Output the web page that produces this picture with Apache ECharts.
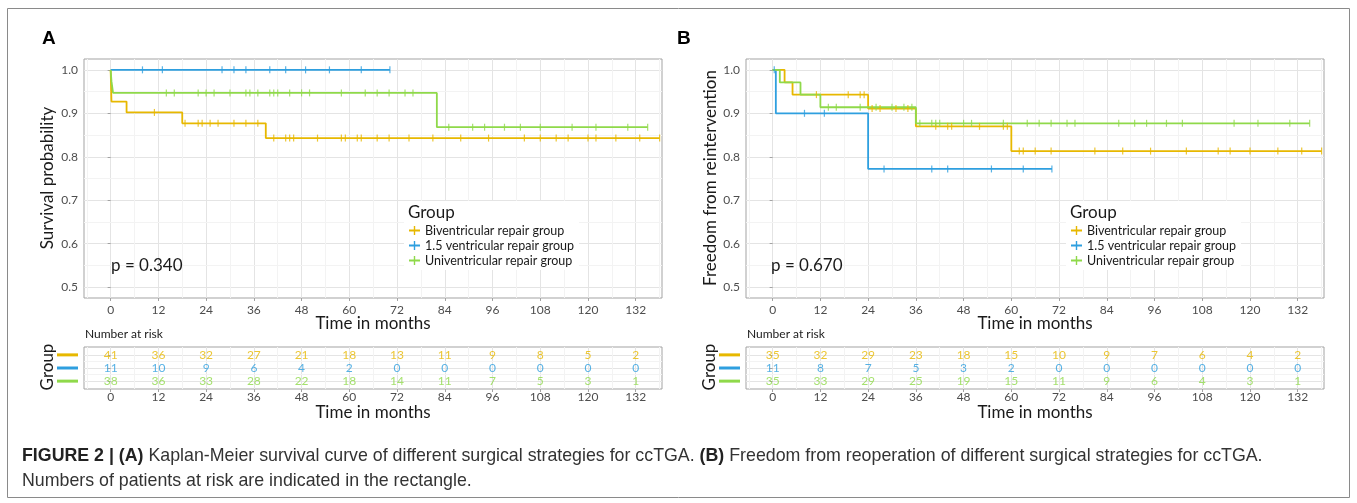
<!DOCTYPE html>
<html><head><meta charset="utf-8">
<script src="https://cdn.jsdelivr.net/npm/echarts@6/dist/echarts.min.js"></script>
<style>html,body{margin:0;padding:0;background:#fff}#c{width:1357px;height:503px}</style>
</head><body><div id="c"></div>
<script>
// ---------------- DATA ----------------
const groupNames = ['Biventricular repair group', '1.5 ventricular repair group', 'Univentricular repair group'];
const xTicks = [0, 12, 24, 36, 48, 60, 72, 84, 96, 108, 120, 132];
const yTicks = [0.5, 0.6, 0.7, 0.8, 0.9, 1.0];

// Panel A: survival (step curve: event times and survival after each step)
const aBiTimes = [0, 0.2, 4, 18, 39, 138];
const aBiSurv = [1, 0.927, 0.902, 0.877, 0.843, 0.843];
const aBiCensor = [11, 18.7, 22, 23, 25, 27, 31, 34, 37, 41, 44, 45, 46, 52, 58, 59, 62, 63, 67, 70, 75, 81, 88, 95, 104, 108, 112, 115, 120, 122, 127, 133, 138];
const aOne5Times = [0, 70.2];
const aOne5Surv = [1, 1];
const aOne5Censor = [8, 13, 28, 31, 34, 40, 44, 49, 55, 63, 70.2];
const aUniTimes = [0, 0.2, 0.6, 82, 135];
const aUniSurv = [1, 0.974, 0.947, 0.868, 0.868];
const aUniCensor = [14, 16, 22, 24, 26, 30, 34, 35, 37, 40, 41, 42, 45, 48, 50, 58, 64, 67, 70, 74, 76, 85, 91, 94, 99, 103, 108, 116, 122, 130, 135];

// Panel B: freedom from reintervention
const bBiTimes = [0, 3, 5, 24, 36, 60, 138];
const bBiSurv = [1, 0.971, 0.943, 0.911, 0.870, 0.813, 0.813];
const bBiCensor = [11, 19, 22, 23, 25, 27, 31, 34, 41, 44, 45, 52, 58, 59, 62, 63, 66, 70, 81, 88, 95, 104, 112, 115, 120, 127, 133, 138];
const bOne5Times = [0, 0.8, 24, 70.2];
const bOne5Surv = [1, 0.9, 0.772, 0.772];
const bOne5Censor = [0.4, 8, 13, 28, 40, 44, 55, 63, 70.2];
const bUniTimes = [0, 1.8, 7, 12, 36, 135];
const bUniSurv = [1, 0.971, 0.943, 0.914, 0.877, 0.877];
const bUniCensor = [14, 16, 22, 26, 30, 33, 35, 37, 40, 41, 42, 48, 50, 58, 64, 67, 70, 74, 76, 87, 91, 94, 99, 103, 116, 122, 130, 135];

// Numbers at risk
const riskTimes = [0, 12, 24, 36, 48, 60, 72, 84, 96, 108, 120, 132];
const aRiskBi = [41, 36, 32, 27, 21, 18, 13, 11, 9, 8, 5, 2];
const aRiskOne5 = [11, 10, 9, 6, 4, 2, 0, 0, 0, 0, 0, 0];
const aRiskUni = [38, 36, 33, 28, 22, 18, 14, 11, 7, 5, 3, 1];
const bRiskBi = [35, 32, 29, 23, 18, 15, 10, 9, 7, 6, 4, 2];
const bRiskOne5 = [11, 8, 7, 5, 3, 2, 0, 0, 0, 0, 0, 0];
const bRiskUni = [35, 33, 29, 25, 19, 15, 11, 9, 6, 4, 3, 1];

// ---------------- STYLE ----------------
const COLORS = ['#E7B800', '#2E9FDF', '#8FD94A'];
const FONT = 'Lato, Roboto, sans-serif';
const CAPFONT = '"Liberation Sans", Arial, sans-serif';
const XMIN = -6.7, XMAX = 138.6, YMIN = 0.475, YMAX = 1.025;
const xMinor = [-6, 6, 18, 30, 42, 54, 66, 78, 90, 102, 114, 126, 138];
const yMinor = [0.55, 0.65, 0.75, 0.85, 0.95];
const MAJOR = '#e4e4e4', MINOR = '#f3f3f3', BORDER = '#a3a3a3', TICKC = '#a3a3a3', LAB = '#4d4d4d';

function survAt(times, vals, t) {
  let v = vals[0];
  for (let i = 0; i < times.length; i++) { if (times[i] <= t) v = vals[i]; }
  return v;
}

const grids = [
  {left: 84, top: 59, width: 578, height: 239},
  {left: 84, top: 347, width: 578, height: 42},
  {left: 746, top: 59, width: 578, height: 239},
  {left: 746, top: 347, width: 578, height: 42}
].map(g => Object.assign({show: true, borderColor: BORDER, borderWidth: 1, backgroundColor: '#fff', containLabel: false, outerBoundsMode: 'none'}, g));

function xAxisFor(gi, margin) {
  return {
    type: 'value', gridIndex: gi, min: XMIN, max: XMAX,
    axisLine: {show: false},
    axisTick: {show: true, length: 3, lineStyle: {color: TICKC}, customValues: xTicks},
    axisLabel: {show: true, customValues: xTicks, margin: margin, color: LAB, fontFamily: FONT, fontSize: 12},
    splitLine: {show: true, lineStyle: {color: MAJOR, width: 1}}
  };
}
function yAxisMain(gi) {
  return {
    type: 'value', gridIndex: gi, min: YMIN, max: YMAX,
    axisLine: {show: false},
    axisTick: {show: true, length: 3, lineStyle: {color: TICKC}, customValues: yTicks},
    axisLabel: {show: true, customValues: yTicks, margin: 6, color: LAB, fontFamily: FONT, fontSize: 12,
      formatter: v => v.toFixed(1)},
    splitLine: {show: true, lineStyle: {color: MAJOR, width: 1}}
  };
}
function yAxisTable(gi) {
  return {
    type: 'value', gridIndex: gi, min: 0.4, max: 3.6, inverse: true,
    axisLine: {show: false},
    axisTick: {show: true, length: 3, lineStyle: {color: TICKC}, customValues: [1, 2, 3]},
    axisLabel: {show: true, customValues: [1, 2, 3], margin: 6,
      formatter: v => '{r' + v + '| }',
      rich: {
        r1: {width: 21, height: 3, lineHeight: 3, backgroundColor: COLORS[0]},
        r2: {width: 21, height: 3, lineHeight: 3, backgroundColor: COLORS[1]},
        r3: {width: 21, height: 3, lineHeight: 3, backgroundColor: COLORS[2]}
      }},
    splitLine: {show: true, lineStyle: {color: MAJOR, width: 1}}
  };
}

function minorSeries(ai, ys) {
  return {
    type: 'line', name: 'minor' + ai, xAxisIndex: ai, yAxisIndex: ai, data: [], silent: true, animation: false,
    markLine: {
      silent: true, symbol: ['none', 'none'], animation: false, z: 1,
      label: {show: false}, emphasis: {disabled: true},
      lineStyle: {color: MINOR, width: 1, type: 'solid'},
      data: xMinor.map(v => ({xAxis: v})).concat(ys.map(v => ({yAxis: v})))
    }
  };
}

function kmSeries(ai, name, color, times, vals, censors) {
  return [
    {type: 'line', name, xAxisIndex: ai, yAxisIndex: ai, step: 'end', showSymbol: false, symbol: 'none',
      data: times.map((t, i) => [t, vals[i]]), lineStyle: {color, width: 1.8}, itemStyle: {color},
      z: 3, silent: true, animation: false, clip: true},
    {type: 'scatter', name, xAxisIndex: ai, yAxisIndex: ai, symbol: 'rect', symbolSize: [1.2, 7],
      data: censors.map(t => [t, survAt(times, vals, t)]), itemStyle: {color},
      z: 4, silent: true, animation: false, clip: true}
  ];
}

function riskSeries(ai, row, vals) {
  return {
    type: 'scatter', name: 'risk' + ai + '_' + row, xAxisIndex: ai, yAxisIndex: ai,
    symbolSize: 1, itemStyle: {color: 'transparent'}, silent: true, animation: false,
    data: riskTimes.map((t, i) => [t, row, vals[i]]),
    label: {show: true, position: 'inside', formatter: p => String(p.value[2]),
      color: COLORS[row - 1], fontFamily: FONT, fontSize: 12}
  };
}

const CROSS = 'path://M0,3.6h11v1.8h-11z M4.8,0h1.4v9h-1.4z';
function legendAt(left) {
  return {
    orient: 'vertical', left: left, top: 201, padding: [22, 5, 2, 5], backgroundColor: '#fff',
    itemWidth: 11, itemHeight: 9, itemGap: 0, icon: CROSS, selectedMode: false,
    textStyle: {fontFamily: FONT, fontSize: 12.5, color: '#1a1a1a', lineHeight: 15},
    data: groupNames, z: 5
  };
}

function txt(x, y, text, size, opts) {
  return Object.assign({
    type: 'text', x: x, y: y, z: 20,
    style: Object.assign({text: text, fontFamily: FONT, fontSize: size, fill: '#1a1a1a', textAlign: 'left', textVerticalAlign: 'middle'}, (opts && opts.style) || {})
  }, opts && opts.rotation !== undefined ? {rotation: opts.rotation} : {});
}

const series = [
  minorSeries(0, yMinor), minorSeries(1, [1.5, 2.5]), minorSeries(2, yMinor), minorSeries(3, [1.5, 2.5]),
  ...kmSeries(0, groupNames[0], COLORS[0], aBiTimes, aBiSurv, aBiCensor),
  ...kmSeries(0, groupNames[1], COLORS[1], aOne5Times, aOne5Surv, aOne5Censor),
  ...kmSeries(0, groupNames[2], COLORS[2], aUniTimes, aUniSurv, aUniCensor),
  ...kmSeries(2, groupNames[0], COLORS[0], bBiTimes, bBiSurv, bBiCensor),
  ...kmSeries(2, groupNames[1], COLORS[1], bOne5Times, bOne5Surv, bOne5Censor),
  ...kmSeries(2, groupNames[2], COLORS[2], bUniTimes, bUniSurv, bUniCensor),
  riskSeries(1, 1, aRiskBi), riskSeries(1, 2, aRiskOne5), riskSeries(1, 3, aRiskUni),
  riskSeries(3, 1, bRiskBi), riskSeries(3, 2, bRiskOne5), riskSeries(3, 3, bRiskUni)
];

const R90 = Math.PI / 2;
const graphic = [
  {type: 'rect', z: 0, shape: {x: 7.5, y: 8.5, width: 1342, height: 489}, style: {fill: 'none', stroke: '#8a8a8a', lineWidth: 1}},
  txt(42, 39, 'A', 19, {style: {fontFamily: CAPFONT, fontWeight: 'bold', fill: '#000'}}),
  txt(677, 39, 'B', 19, {style: {fontFamily: CAPFONT, fontWeight: 'bold', fill: '#000'}}),
  txt(48, 178, 'Survival probability', 17, {rotation: R90, style: {textAlign: 'center'}}),
  txt(711, 178, 'Freedom from reintervention', 17, {rotation: R90, style: {textAlign: 'center'}}),
  txt(373, 324, 'Time in months', 17, {style: {textAlign: 'center'}}),
  txt(1035, 324, 'Time in months', 17, {style: {textAlign: 'center'}}),
  txt(373, 413, 'Time in months', 17, {style: {textAlign: 'center'}}),
  txt(1035, 413, 'Time in months', 17, {style: {textAlign: 'center'}}),
  txt(85, 334, 'Number at risk', 12),
  txt(747, 334, 'Number at risk', 12),
  txt(48, 367, 'Group', 17, {rotation: R90, style: {textAlign: 'center'}}),
  txt(710, 367, 'Group', 17, {rotation: R90, style: {textAlign: 'center'}}),
  txt(111, 266, 'p = 0.340', 17),
  txt(771, 266, 'p = 0.670', 17),
  txt(408, 213, 'Group', 17),
  txt(1070, 213, 'Group', 17),
  {type: 'text', x: 22, y: 456, z: 20, style: {
    text: '{b|FIGURE 2 | (A)} Kaplan-Meier survival curve of different surgical strategies for ccTGA. {b|(B)} Freedom from reoperation of different surgical strategies for ccTGA.',
    fontFamily: CAPFONT, fontSize: 17.8, fill: '#333', textVerticalAlign: 'middle',
    rich: {b: {fontFamily: CAPFONT, fontSize: 17.8, fontWeight: 'bold', fill: '#222'}}}},
  txt(22, 481, 'Numbers of patients at risk are indicated in the rectangle.', 17.8, {style: {fontFamily: CAPFONT, fill: '#333'}})
];

const chart = echarts.init(document.getElementById('c'), null, {renderer: 'canvas'});
chart.setOption({
  animation: false,
  backgroundColor: '#fff',
  grid: grids,
  xAxis: [xAxisFor(0, 6), xAxisFor(1, 2), xAxisFor(2, 6), xAxisFor(3, 2)],
  yAxis: [yAxisMain(0), yAxisTable(1), yAxisMain(2), yAxisTable(3)],
  legend: [legendAt(404), legendAt(1066)],
  series: series,
  graphic: graphic
});
</script></body></html>
